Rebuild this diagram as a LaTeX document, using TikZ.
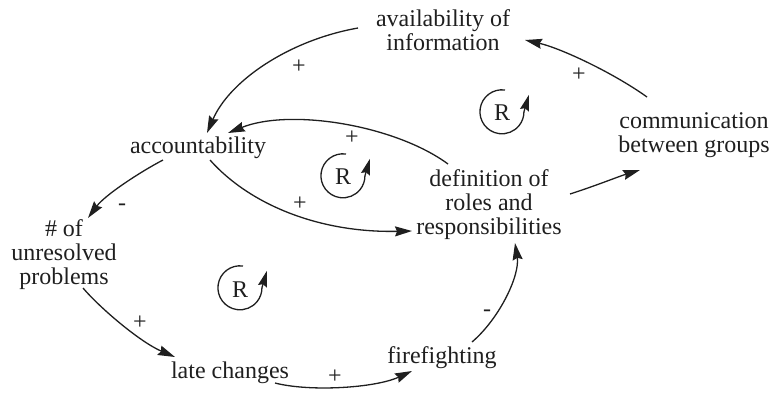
\documentclass[tikz,border=0pt]{standalone}
\usepackage{fontspec}
\setmainfont{Liberation Serif}
\usetikzlibrary{arrows.meta,calc}
\begin{document}
\begin{tikzpicture}[x=1pt,y=-1pt,
  lbl/.style={font=\fontsize{24}{24}\selectfont, align=center, inner sep=0pt, text=black!88},
  sgn/.style={font=\fontsize{24}{24}\selectfont, inner sep=0pt, text=black!88},
  link/.style={line width=1.3pt, draw=black!88, -{Stealth[length=17pt,width=10pt,inset=2pt]}},
  rloop/.style={line width=1.3pt, draw=black!88, -{Stealth[length=16pt,width=9pt,inset=2pt]}}]
\useasboundingbox (0,0) rectangle (775,392);
% variables
\node[lbl] (avail) at (443,30) {availability of\\information};
\node[lbl] (comm)  at (694,135) {communication\\between groups};
\node[lbl] (acct)  at (198,148) {accountability};
\node[lbl] (defn)  at (489,205) {definition of\\roles and\\responsibilities};
\node[lbl] (unres) at (64,255) {\# of\\unresolved\\problems};
\node[lbl] (late)  at (230,373) {late changes};
\node[lbl] (fire)  at (442,358) {firefighting};
% links
\draw[link] ($(avail)+(-85,-2)$) .. controls (290,40) and (230,80) .. ($(acct)+(9,-15)$);
\draw[link] ($(comm)+(-47,-38)$) .. controls (612,72) and (560,48) .. ($(avail)+(82,10)$);
\draw[link] ($(defn)+(-41,-41)$) .. controls (395,125) and (290,108) .. ($(acct)+(30,-15)$);
\draw[link] ($(acct)+(12,12)$) .. controls (250,205) and (320,233) .. ($(defn)+(-77,26)$);
\draw[link] ($(acct)+(-35,12)$) .. controls (140,172) and (105,195) .. ($(unres)+(24,-37)$);
\draw[link] ($(unres)+(19,33)$) .. controls (100,308) and (140,342) .. ($(late)+(-55,-16)$);
\draw[link] ($(late)+(45,10)$) .. controls (310,392) and (375,388) .. ($(fire)+(-30,13)$);
\draw[link] ($(fire)+(30,-16)$) .. controls (500,318) and (520,275) .. ($(defn)+(26,38)$);
\draw[link] ($(defn)+(81,-11)$) .. controls (595,186) and (620,176) .. ($(comm)+(-54,35)$);
% polarity signs
\node[sgn] (s1) at (299,67) {+};
\node[sgn] (s2) at (579,75) {+};
\node[sgn] (s3) at (352,138) {+};
\node[sgn] (s4) at (300,204) {+};
\node[sgn] (s5) at (122,207) {-};
\node[sgn] (s6) at (140,323) {+};
\node[sgn] (s7) at (335,377) {+};
\node[sgn] (s8) at (487,313) {-};
% loop markers
\node[sgn] (r1) at (502,113) {R};
\node[sgn] (r2) at (343,177) {R};
\node[sgn] (r3) at (240,290) {R};
\draw[rloop] ($(r1)+(3,-23)$) arc[start angle=-82, end angle=-360, radius=22] -- ++(5,-17);
\draw[rloop] ($(r2)+(3,-23)$) arc[start angle=-82, end angle=-360, radius=22] -- ++(5,-17);
\draw[rloop] ($(r3)+(3,-24)$) arc[start angle=-82, end angle=-360, radius=22] -- ++(5,-17);
\end{tikzpicture}
\end{document}
